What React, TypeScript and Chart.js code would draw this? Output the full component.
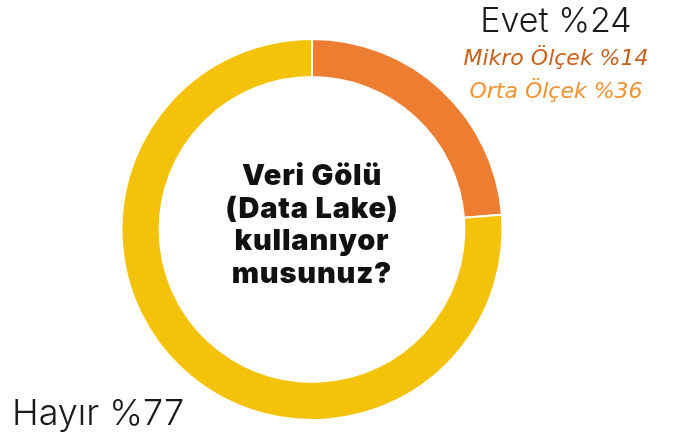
import React, { useEffect, useRef } from "react";
import { Chart, registerables } from "chart.js";

Chart.register(...registerables);

const categories = ["Evet", "Hayır"];
const values = [24, 77];
const colors = ["#ED7D31", "#F5C20A"];
const centerLines = ["Veri Gölü", "(Data Lake)", "kullanıyor", "musunuz?"];
const subLabels = ["Mikro Ölçek %14", "Orta Ölçek %36"];
const subColors = ["#C8611C", "#F0922F"];

export default function App() {
  const ref = useRef<HTMLCanvasElement | null>(null);
  useEffect(() => {
    document.body.style.margin = "0";
    const labelPlugin = {
      id: "labels",
      afterDraw(chart: any) {
        const ctx = chart.ctx;
        ctx.save();
        ctx.textBaseline = "alphabetic";
        const area = chart.chartArea;
        const cx = (area.left + area.right) / 2;
        ctx.fillStyle = "#111111";
        ctx.textAlign = "center";
        ctx.font = "900 29px Inter";
        (ctx as any).letterSpacing = "0.8px";
        const baselines = [185, 218, 250, 283];
        centerLines.forEach((l, i) => ctx.fillText(l, cx, baselines[i]));
        (ctx as any).letterSpacing = "0px";
        ctx.font = "300 34px Inter";
        ctx.fillStyle = "#1a1a1a";
        ctx.fillText(`${categories[0]} %${values[0]}`, 556, 32);
        ctx.font = "oblique 22px 'DejaVu Sans'";
        ctx.fillStyle = subColors[0];
        ctx.fillText(subLabels[0], 556, 65);
        ctx.fillStyle = subColors[1];
        ctx.fillText(subLabels[1], 556, 98);
        ctx.textAlign = "left";
        ctx.font = "300 36px Inter";
        ctx.fillStyle = "#1a1a1a";
        ctx.fillText(`${categories[1]} %${values[1]}`, 12, 425);
        ctx.restore();
      },
    };
    const chart = new Chart(ref.current!, {
      type: "doughnut",
      data: {
        labels: categories,
        datasets: [
          {
            data: values,
            backgroundColor: colors,
            borderColor: "#ffffff",
            borderWidth: 2,
          },
        ],
      },
      options: {
        animation: false,
        responsive: false,
        cutout: "80%",
        layout: { padding: { left: 120.5, right: 169.5, top: 38, bottom: 11 } },
        plugins: { legend: { display: false }, tooltip: { enabled: false } },
      },
      plugins: [labelPlugin],
    });
    return () => chart.destroy();
  }, []);
  return (
    <div style={{ position: "relative", width: 673, height: 432 }}>
      <canvas ref={ref} width={673} height={432} style={{ display: "block" }} />
    </div>
  );
}
